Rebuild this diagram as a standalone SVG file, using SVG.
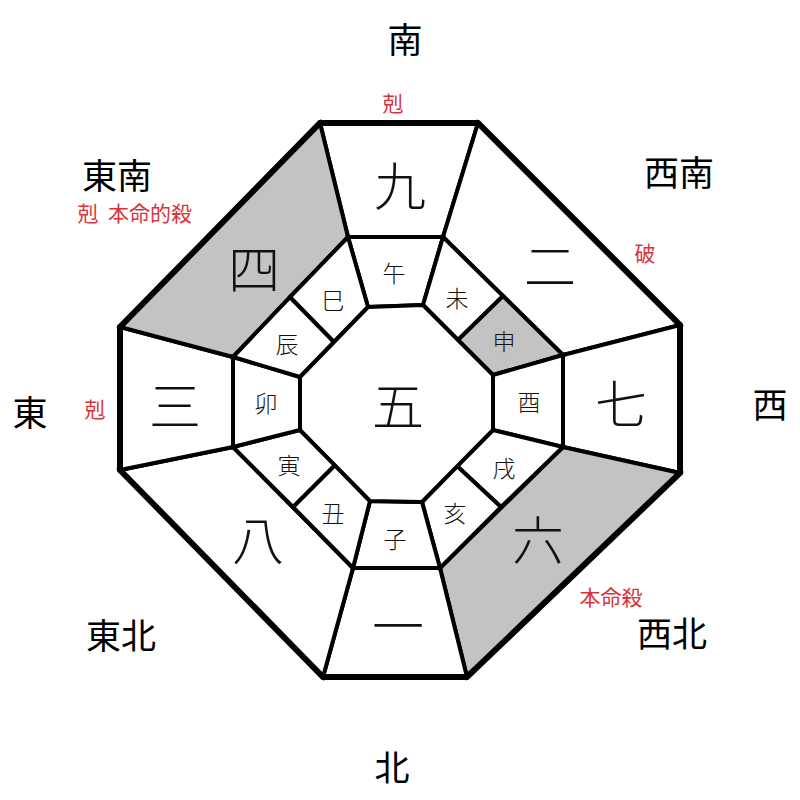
<svg xmlns="http://www.w3.org/2000/svg" width="800" height="800" viewBox="0 0 800 800">
<style>
.cell{fill:#fff;stroke:#000;stroke-width:4;stroke-linejoin:miter}
.gray{fill:#c3c3c3}
.outer{fill:none;stroke:#000;stroke-width:6;stroke-linejoin:miter}
text{font-family:"Noto Sans CJK JP","Noto Sans CJK SC",sans-serif;text-anchor:middle;dominant-baseline:central}
.num{font-size:52px;fill:#111;font-weight:300}
.br{font-size:23px;fill:#111;font-weight:300}
.dir{font-size:35px;fill:#000}
.red{font-size:21px;fill:#d8343c}
</style>
<rect width="800" height="800" fill="#fff"/>
<g id="sectors">
<g id="s9"><polygon class="cell" points="320,123 478,123 443,237 348,237"/><text class="num" x="400" y="183">九</text></g>
<g id="s2"><polygon class="cell" points="478,123 680,325 563,355 443,237"/><text class="num" x="550" y="263">二</text></g>
<g id="s7"><polygon class="cell" points="680,325 680,473 563,447 563,355"/><text class="num" x="621" y="401">七</text></g>
<g id="s6"><polygon class="cell gray" points="680,473 467,677 440,568 563,447"/><text class="num" x="538" y="537">六</text></g>
<g id="s1"><polygon class="cell" points="467,677 323,677 353,568 440,568"/><text class="num" x="398" y="623">一</text></g>
<g id="s8"><polygon class="cell" points="323,677 120,470 233,447 353,568"/><text class="num" x="258" y="537">八</text></g>
<g id="s3"><polygon class="cell" points="120,470 120,327 233,357 233,447"/><text class="num" x="175" y="403">三</text></g>
<g id="s4"><polygon class="cell gray" points="120,327 320,123 348,237 233,357"/><text class="num" x="254" y="266">四</text></g>
</g>
<g id="branches">
<g id="b-uma"><polygon class="cell" points="348,237 443,237 423,305 368,307"/><text class="br" x="394" y="272">午</text></g>
<g id="b-hitsuji"><polygon class="cell" points="443,237 503,296 458,340 423,305"/><text class="br" x="457" y="297">未</text></g>
<g id="b-saru"><polygon class="cell gray" points="503,296 563,355 493,375 458,340"/><text class="br" x="504" y="340">申</text></g>
<g id="b-tori"><polygon class="cell" points="563,355 563,447 493,430 493,375"/><text class="br" x="529" y="401">酉</text></g>
<g id="b-inu"><polygon class="cell" points="563,447 501,507 457,466 493,430"/><text class="br" x="504" y="467">戌</text></g>
<g id="b-i"><polygon class="cell" points="501,507 440,568 422,502 457,466"/><text class="br" x="455" y="512">亥</text></g>
<g id="b-ne"><polygon class="cell" points="440,568 353,568 370,501 422,502"/><text class="br" x="395" y="538">子</text></g>
<g id="b-ushi"><polygon class="cell" points="353,568 293,507 335,465 370,501"/><text class="br" x="333" y="512">丑</text></g>
<g id="b-tora"><polygon class="cell" points="293,507 233,447 300,430 335,465"/><text class="br" x="289" y="464">寅</text></g>
<g id="b-u"><polygon class="cell" points="233,447 233,357 300,377 300,430"/><text class="br" x="266" y="402">卯</text></g>
<g id="b-tatsu"><polygon class="cell" points="233,357 290,297 334,342 300,377"/><text class="br" x="287" y="343">辰</text></g>
<g id="b-mi"><polygon class="cell" points="290,297 348,237 368,307 334,342"/><text class="br" x="333" y="299">巳</text></g>
</g>
<g id="center"><polygon class="cell" points="368,307 423,305 493,375 493,430 422,502 370,501 300,430 300,377"/><text class="num" x="398" y="403">五</text></g>
<g id="frame"><polygon class="outer" points="320,123 478,123 680,325 680,473 467,677 323,677 120,470 120,327"/></g>
<g id="labels">
<text class="dir" x="405" y="37">南</text>
<text class="red" x="393" y="102">剋</text>
<text class="dir" x="117" y="173">東南</text>
<text class="red" x="88" y="212">剋</text>
<text class="red" x="150" y="212">本命的殺</text>
<text class="dir" x="679" y="170">西南</text>
<text class="red" x="645" y="252">破</text>
<text class="dir" x="30" y="410">東</text>
<text class="red" x="95" y="408">剋</text>
<text class="dir" x="770" y="402">西</text>
<text class="dir" x="121" y="633">東北</text>
<text class="red" x="611" y="596">本命殺</text>
<text class="dir" x="672" y="631">西北</text>
<text class="dir" x="392" y="765">北</text>
</g>
</svg>
